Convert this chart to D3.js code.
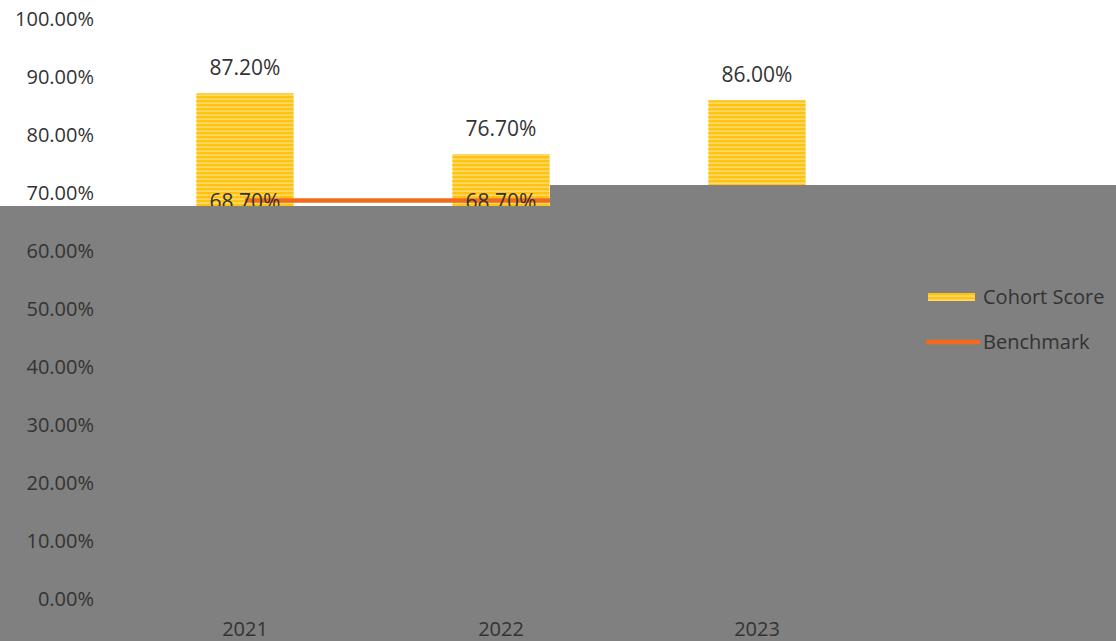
<!DOCTYPE html>
<html>
<head>
<meta charset="utf-8">
<script src="https://cdn.jsdelivr.net/npm/d3@7"></script>
<style>
  html, body { margin: 0; padding: 0; background: #fff; }
  #chart { width: 1116px; height: 641px; }
  text { font-family: "Open Sans", "Noto Sans", sans-serif; }
</style>
</head>
<body>
<div id="chart"></div>
<script>
const years = ["2021", "2022", "2023"];
const cohortScore = [87.2, 76.7, 86.0];
const benchmark = [68.7, 68.7, 68.7];
const yTicks = [0, 10, 20, 30, 40, 50, 60, 70, 80, 90, 100];
const seriesNames = ["Cohort Score", "Benchmark"];

const width = 1116, height = 641;
const svg = d3.select("#chart").append("svg")
  .attr("width", width).attr("height", height);

const x = d3.scaleBand().domain(years).range([117, 885])
  .paddingInner(0.62).paddingOuter(0.31);
const y = d3.scaleLinear().domain([0, 100]).range([599, 19]);
const fmt = v => v.toFixed(2) + "%";

// striped yellow fill
const defs = svg.append("defs");
const pat = defs.append("pattern").attr("id", "stripes")
  .attr("patternUnits", "userSpaceOnUse").attr("width", 8).attr("height", 4);
pat.append("rect").attr("width", 8).attr("height", 4).attr("fill", "#ffc20e");
pat.append("rect").attr("y", 2.5).attr("width", 8).attr("height", 1.2).attr("fill", "#ffe38c");

// bars
svg.selectAll("rect.bar").data(cohortScore).join("rect")
  .attr("class", "bar")
  .attr("x", (d, i) => x(years[i]))
  .attr("y", d => y(d))
  .attr("width", x.bandwidth())
  .attr("height", d => y(0) - y(d))
  .attr("fill", "url(#stripes)");

svg.selectAll("text.barlab").data(cohortScore).join("text")
  .attr("class", "barlab")
  .attr("x", (d, i) => x(years[i]) + x.bandwidth() / 2)
  .attr("y", d => y(d) - 18)
  .attr("text-anchor", "middle")
  .attr("font-size", 21).attr("fill", "#333")
  .text(fmt);

// benchmark line
const line = d3.line()
  .x((d, i) => x(years[i]) + x.bandwidth() / 2)
  .y(d => y(d));
svg.append("path").datum(benchmark)
  .attr("d", line).attr("fill", "none")
  .attr("stroke", "#f26b1d").attr("stroke-width", 4.5);

svg.selectAll("text.benchlab").data(benchmark).join("text")
  .attr("class", "benchlab")
  .attr("x", (d, i) => x(years[i]) + x.bandwidth() / 2)
  .attr("y", d => y(d) + 8)
  .attr("text-anchor", "middle")
  .attr("font-size", 21).attr("fill", "#333")
  .text(fmt);

// grey overlay covering the lower part of the plot
svg.append("rect").attr("x", 0).attr("y", 206).attr("width", width).attr("height", height - 206)
  .attr("fill", "#808080");
svg.append("rect").attr("x", 550).attr("y", 185).attr("width", width - 550).attr("height", 22)
  .attr("fill", "#808080");

// y axis labels
svg.selectAll("text.ytick").data(yTicks).join("text")
  .attr("class", "ytick")
  .attr("x", 94).attr("y", d => y(d) + 7)
  .attr("text-anchor", "end")
  .attr("font-size", 20).attr("fill", "#333")
  .text(d => d.toFixed(2) + "%");

// x axis labels
svg.selectAll("text.xtick").data(years).join("text")
  .attr("class", "xtick")
  .attr("x", d => x(d) + x.bandwidth() / 2)
  .attr("y", 636)
  .attr("text-anchor", "middle")
  .attr("font-size", 20).attr("fill", "#333")
  .text(d => d);

// legend
const lg = svg.append("g").attr("transform", "translate(928, 297)");
lg.append("rect").attr("x", 0).attr("y", -4).attr("width", 47).attr("height", 8)
  .attr("fill", "url(#stripes)");
lg.append("text").attr("x", 55).attr("y", 7).attr("font-size", 20).attr("fill", "#333")
  .text(seriesNames[0]);
lg.append("line").attr("x1", -2).attr("x2", 52).attr("y1", 45).attr("y2", 45)
  .attr("stroke", "#f26b1d").attr("stroke-width", 4.5);
lg.append("text").attr("x", 55).attr("y", 52).attr("font-size", 20).attr("fill", "#333")
  .text(seriesNames[1]);
</script>
</body>
</html>
